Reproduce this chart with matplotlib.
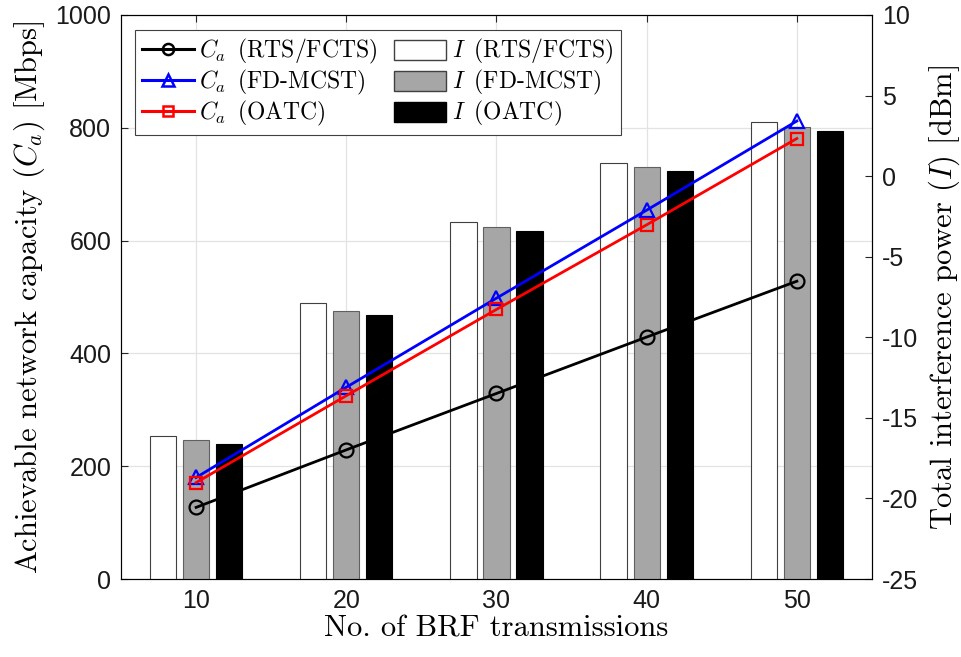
import matplotlib.pyplot as plt
import numpy as np
from matplotlib.patches import Patch
from matplotlib.lines import Line2D

plt.rcParams['mathtext.fontset'] = 'cm'
plt.rcParams['axes.unicode_minus'] = False

# data
n_brf = [10, 20, 30, 40, 50]

cap_rts = [127, 229, 329, 429, 528]
cap_fd = [180, 340, 498, 654, 812]
cap_oatc = [171, 325, 478, 628, 781]

intf_rts = [-16.1, -7.9, -2.85, 0.8, 3.35]
intf_fd = [-16.4, -8.35, -3.15, 0.55, 3.05]
intf_oatc = [-16.6, -8.6, -3.4, 0.3, 2.8]

serif = 'cmr10'
tick_font = 'Liberation Sans'

fig = plt.figure(figsize=(9.62, 6.57), dpi=100)
pos = [0.1258, 0.1187, 0.9064 - 0.1258, 0.9772 - 0.1187]

# bottom axes: grid + left capacity scale
ax = fig.add_axes(pos)
ax.set_xlim(5, 55)
ax.set_ylim(0, 1000)
ax.set_xticks(n_brf)
ax.set_yticks(np.arange(0, 1001, 200))
ax.grid(True, color='#e3e3e3', linewidth=0.9)
ax.set_axisbelow(True)
ax.tick_params(direction='in', length=5, width=0.8, labelsize=18, top=True, colors='#262626', pad=7)
for lab in ax.get_xticklabels() + ax.get_yticklabels():
    lab.set_fontfamily(tick_font)
    lab.set_color('#1a1a1a')
for sp in ax.spines.values():
    sp.set_color('#262626')
ax.set_ylabel(r'Achievable network capacity ($C_a$) [Mbps]', fontfamily=serif, fontsize=22, labelpad=6)
ax.set_xlabel('No. of BRF transmissions', fontfamily=serif, fontsize=22, labelpad=2)

# bars on right axis
axr = ax.twinx()
axr.set_ylim(-25, 10)
axr.set_yticks(np.arange(-25, 11, 5))
axr.tick_params(direction='in', length=5, width=0.8, labelsize=18, colors='#262626', pad=7)
for lab in axr.get_yticklabels():
    lab.set_fontfamily(tick_font)
    lab.set_color('#1a1a1a')
axr.set_ylabel(r'Total interference power ($I$) [dBm]', fontfamily=serif, fontsize=22, labelpad=6)

x = np.array(n_brf)
w = 1.75
off = 2.2
axr.bar(x - off, np.array(intf_rts) + 25, w, bottom=-25, color='white', edgecolor='#404040', linewidth=0.8)
axr.bar(x, np.array(intf_fd) + 25, w, bottom=-25, color='#a6a6a6', edgecolor='#606060', linewidth=0.8)
axr.bar(x + off, np.array(intf_oatc) + 25, w, bottom=-25, color='black', edgecolor='black', linewidth=0.8)

# lines on top
axl = fig.add_axes(pos, sharex=ax, sharey=ax)
axl.axis('off')
axl.plot(n_brf, cap_rts, '-o', color='black', lw=2, ms=10, mfc='none', mew=1.6)
axl.plot(n_brf, cap_fd, '-^', color='blue', lw=2, ms=10, mfc='none', mew=1.6)
axl.plot(n_brf, cap_oatc, '-s', color='red', lw=2, ms=9, mfc='none', mew=1.6)

handles = [
    Line2D([], [], color='black', lw=2.2, marker='o', ms=8, mfc='none', mew=1.8),
    Line2D([], [], color='blue', lw=2.2, marker='^', ms=8, mfc='none', mew=1.8),
    Line2D([], [], color='red', lw=2.2, marker='s', ms=7, mfc='none', mew=1.8),
    Patch(facecolor='white', edgecolor='#404040'),
    Patch(facecolor='#a6a6a6', edgecolor='#404040'),
    Patch(facecolor='black', edgecolor='black'),
]
labels = [r'$C_a\,$ (RTS/FCTS)', r'$C_a\,$ (FD-MCST)', r'$C_a\,$ (OATC)',
          r'$I\,$ (RTS/FCTS)', r'$I\,$ (FD-MCST)', r'$I\,$ (OATC)']
leg = axl.legend(handles, labels, ncol=2, loc='upper left', bbox_to_anchor=(0.018, 0.973),
                 borderaxespad=0, prop={'family': serif, 'size': 17}, handlelength=2.2,
                 handleheight=0.95, handletextpad=0.25, columnspacing=0.7, labelspacing=0.08,
                 borderpad=0.3, fancybox=False, framealpha=1, edgecolor='#404040')
leg.get_frame().set_linewidth(0.8)

fig.savefig('out.png', dpi=100)
